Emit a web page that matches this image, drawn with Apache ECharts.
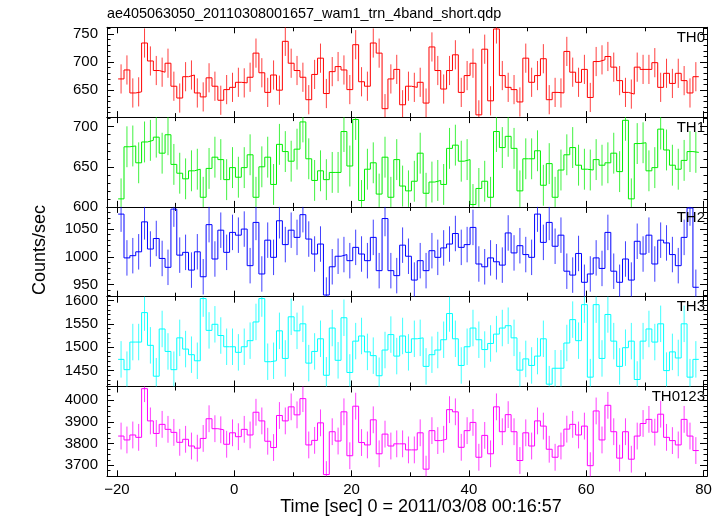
<!DOCTYPE html>
<html><head><meta charset="utf-8">
<script src="https://cdn.jsdelivr.net/npm/echarts@6/dist/echarts.min.js"></script>
<style>html,body{margin:0;padding:0;background:#fff}#c{width:726px;height:516px}</style>
</head><body><div id="c"></div><script>
const chartTitle = 'ae405063050_20110308001657_wam1_trn_4band_short.qdp';
const xTitle = 'Time [sec] 0 = 2011/03/08 00:16:57';
const yTitle = 'Counts/sec';
const panelNames = ['TH0', 'TH1', 'TH2', 'TH3', 'TH0123'];
const binStart = -19.8;
const binWidth = 1;

const th0 = [670, 686, 645, 647, 734, 702, 685, 682, 698, 657,
  636, 674, 677, 645, 638, 672, 657, 632, 651, 655,
  664, 663, 673, 716, 681, 646, 677, 650, 737, 698,
  685, 673, 633, 678, 707, 644, 683, 692, 686, 651,
  731, 665, 657, 734, 716, 617, 670, 687, 624, 657,
  655, 664, 627, 727, 685, 652, 685, 713, 646, 676,
  698, 606, 723, 631, 759, 676, 655, 651, 629, 707,
  664, 676, 706, 633, 646, 645, 719, 682, 664, 687,
  637, 701, 704, 710, 691, 667, 646, 643, 691, 687,
  687, 699, 655, 680, 662, 680, 667, 645, 674];
const th1 = [610, 675, 676, 655, 681, 683, 687, 667, 690, 653,
  642, 635, 645, 647, 612, 648, 662, 659, 634, 649,
  637, 649, 665, 612, 650, 662, 628, 678, 669, 657,
  672, 706, 660, 633, 645, 634, 643, 643, 694, 651,
  709, 608, 647, 655, 616, 662, 612, 659, 626, 620,
  632, 667, 617, 631, 633, 628, 673, 677, 657, 659,
  603, 623, 632, 612, 694, 674, 688, 673, 620, 660,
  660, 670, 627, 654, 612, 646, 665, 674, 652, 647,
  646, 659, 652, 655, 667, 644, 708, 610, 679, 680,
  645, 649, 697, 671, 652, 647, 658, 669, 668];
const th2 = [1077, 998, 1002, 1009, 1063, 1014, 1033, 997, 981, 1086,
  1003, 1008, 976, 1009, 964, 1058, 996, 1048, 1008, 1044,
  1039, 1050, 984, 1062, 969, 1030, 999, 1065, 1022, 1048,
  1035, 1076, 1032, 1005, 1023, 931, 982, 1001, 1004, 993,
  1017, 1005, 993, 1035, 975, 1069, 975, 966, 1021, 1001,
  958, 993, 975, 1011, 999, 1016, 1023, 1042, 1017, 1022,
  1053, 987, 982, 998, 991, 985, 1043, 1007, 1020, 1004,
  999, 1077, 1026, 1062, 1019, 1039, 974, 967, 1006, 954,
  969, 998, 979, 1044, 974, 954, 996, 958, 1028, 1005,
  1039, 987, 1030, 1025, 1004, 984, 1035, 1088, 945];
const th3 = [1474, 1452, 1511, 1511, 1574, 1504, 1438, 1539, 1491, 1452,
  1520, 1496, 1484, 1471, 1604, 1536, 1549, 1525, 1501, 1501,
  1489, 1501, 1514, 1554, 1604, 1469, 1471, 1535, 1476, 1565,
  1535, 1550, 1466, 1491, 1518, 1440, 1541, 1472, 1563, 1446,
  1513, 1524, 1490, 1482, 1439, 1494, 1527, 1481, 1524, 1489,
  1518, 1520, 1459, 1484, 1494, 1516, 1572, 1518, 1461, 1501,
  1541, 1516, 1495, 1508, 1528, 1541, 1546, 1520, 1451, 1475,
  1461, 1481, 1518, 1421, 1455, 1455, 1509, 1559, 1514, 1591,
  1436, 1591, 1476, 1570, 1513, 1459, 1499, 1513, 1431, 1513,
  1539, 1511, 1550, 1450, 1490, 1477, 1550, 1436, 1474];
const th0123 = [3835, 3817, 3840, 3829, 4054, 3905, 3847, 3889, 3866, 3852,
  3806, 3820, 3789, 3779, 3824, 3915, 3869, 3864, 3797, 3850,
  3832, 3866, 3840, 3945, 3905, 3811, 3782, 3930, 3905, 3970,
  3933, 4008, 3794, 3815, 3896, 3657, 3855, 3812, 3947, 3744,
  3973, 3805, 3794, 3910, 3753, 3844, 3789, 3799, 3799, 3771,
  3771, 3850, 3682, 3860, 3814, 3820, 3957, 3947, 3783, 3860,
  3898, 3737, 3838, 3753, 3970, 3855, 3934, 3855, 3722, 3850,
  3789, 3905, 3881, 3774, 3737, 3789, 3867, 3889, 3840, 3881,
  3698, 3951, 3817, 3977, 3855, 3733, 3855, 3728, 3835, 3893,
  3912, 3853, 3936, 3829, 3814, 3794, 3912, 3835, 3768];
const errHalf = [26, 25.5, 32, 39, 62];

const xMin = -21.7, xMax = 80.6;
const xMajor = [-20, 0, 20, 40, 60, 80];
const xMinor = [-10, 10, 30, 50, 70];
const yMin = [602, 600, 928, 1416, 3649];
const yMax = [762, 712, 1090, 1608, 4064];
const yMajor = [[650, 700, 750], [600, 650, 700], [950, 1000, 1050], [1450, 1500, 1550, 1600], [3700, 3800, 3900, 4000]];
const yMinorStep = [10, 10, 10, 10, 25];
const colors = ['#ff0000', '#00ee00', '#0000ff', '#00ffff', '#ff00ff'];

const allData = [th0, th1, th2, th3, th0123];
const FONT = 'Liberation Sans, Arial, Helvetica, sans-serif';
const gLeft = 107, gWidth = 600, top0 = 27.3, ph = 89.8;

const grids = [], xAxes = [], yAxes = [], series = [], graphics = [];
for (let i = 0; i < 5; i++) {
  grids.push({left: gLeft, width: gWidth, top: top0 + i * ph, height: ph});
  const lineOn = {show: true, onZero: false, lineStyle: {color: '#000', width: 1}};
  const lineOff = {show: false, onZero: false};
  const xb = {type: 'value', gridIndex: i, min: xMin, max: xMax, splitLine: {show: false}, axisLabel: {show: false}};
  xAxes.push(Object.assign({}, xb, {position: 'bottom', axisLine: lineOn,
    axisTick: {show: true, inside: true, length: 6, customValues: xMajor, lineStyle: {color: '#000'}},
    axisLabel: i === 4 ? {show: true, customValues: xMajor, margin: 6, color: '#000', fontSize: 15, fontFamily: FONT,
      formatter: v => String(v).replace('-', '\u2212')} : {show: false}}));
  xAxes.push(Object.assign({}, xb, {position: 'bottom', axisLine: lineOff,
    axisTick: {show: true, inside: true, length: 4, customValues: xMinor, lineStyle: {color: '#000'}}}));
  xAxes.push(Object.assign({}, xb, {position: 'top', axisLine: lineOn,
    axisTick: {show: true, inside: true, length: 6, customValues: xMajor, lineStyle: {color: '#000'}}}));
  xAxes.push(Object.assign({}, xb, {position: 'top', axisLine: lineOff,
    axisTick: {show: true, inside: true, length: 4, customValues: xMinor, lineStyle: {color: '#000'}}}));

  const minors = [];
  for (let v = Math.ceil(yMin[i] / yMinorStep[i]) * yMinorStep[i]; v <= yMax[i]; v += yMinorStep[i]) {
    if (yMajor[i].indexOf(v) < 0) minors.push(v);
  }
  const yb = {type: 'value', gridIndex: i, min: yMin[i], max: yMax[i], splitLine: {show: false}, axisLabel: {show: false}};
  yAxes.push(Object.assign({}, yb, {position: 'left', axisLine: lineOn,
    axisTick: {show: true, inside: true, length: 7, customValues: yMajor[i], lineStyle: {color: '#000'}},
    axisLabel: {show: true, customValues: yMajor[i], margin: 9, color: '#000', fontSize: 15, fontFamily: FONT,
      formatter: v => String(v)}}));
  yAxes.push(Object.assign({}, yb, {position: 'left', axisLine: lineOff,
    axisTick: {show: true, inside: true, length: 3.5, customValues: minors, lineStyle: {color: '#000'}}}));
  yAxes.push(Object.assign({}, yb, {position: 'right', axisLine: lineOn,
    axisTick: {show: true, inside: true, length: 7, customValues: yMajor[i], lineStyle: {color: '#000'}}}));
  yAxes.push(Object.assign({}, yb, {position: 'right', axisLine: lineOff,
    axisTick: {show: true, inside: true, length: 3.5, customValues: minors, lineStyle: {color: '#000'}}}));

  const vals = allData[i];
  const edges = vals.map((v, k) => [binStart + k * binWidth, v]);
  edges.push([binStart + vals.length * binWidth, vals[vals.length - 1]]);
  const col = colors[i];
  const err = errHalf[i];
  series.push({type: 'line', xAxisIndex: i * 4, yAxisIndex: i * 4, step: 'end', symbol: 'none', data: edges,
    lineStyle: {color: col, width: 1}, silent: true, animation: false, clip: true, z: 3});
  series.push({type: 'custom', xAxisIndex: i * 4, yAxisIndex: i * 4, silent: true, animation: false, z: 2,
    data: vals.map((v, k) => [binStart + (k + 0.5) * binWidth, v]),
    encode: {x: 0, y: 1},
    renderItem: function (params, api) {
      const x = api.value(0), y = api.value(1);
      const p1 = api.coord([x, y - err]), p2 = api.coord([x, y + err]);
      const cs = params.coordSys;
      const yb1 = Math.min(p1[1], cs.y + cs.height), yt = Math.max(p2[1], cs.y);
      return {type: 'line', shape: {x1: p1[0], y1: yb1, x2: p2[0], y2: yt},
        style: {stroke: col, lineWidth: 1, opacity: 0.75}};
    }});

  graphics.push({type: 'text', x: 705, y: top0 + i * ph + 10.5, z: 10,
    style: {text: panelNames[i], font: '15px ' + FONT, fill: '#000', align: 'right', verticalAlign: 'middle'}});
}
graphics.push({type: 'text', x: 107, y: 14, style: {text: chartTitle, font: '14.4px ' + FONT, fill: '#000', align: 'left', verticalAlign: 'middle'}});
graphics.push({type: 'text', x: 421, y: 507, style: {text: xTitle, font: '18px ' + FONT, fill: '#000', align: 'center', verticalAlign: 'middle'}});
graphics.push({type: 'text', x: 40, y: 250, rotation: Math.PI / 2, style: {text: yTitle, font: '18px ' + FONT, fill: '#000', align: 'center', verticalAlign: 'middle'}});

const chart = echarts.init(document.getElementById('c'), null, {renderer: 'canvas'});
chart.setOption({
  animation: false,
  backgroundColor: '#fff',
  grid: grids,
  xAxis: xAxes,
  yAxis: yAxes,
  series: series,
  graphic: graphics
});
</script></body></html>
